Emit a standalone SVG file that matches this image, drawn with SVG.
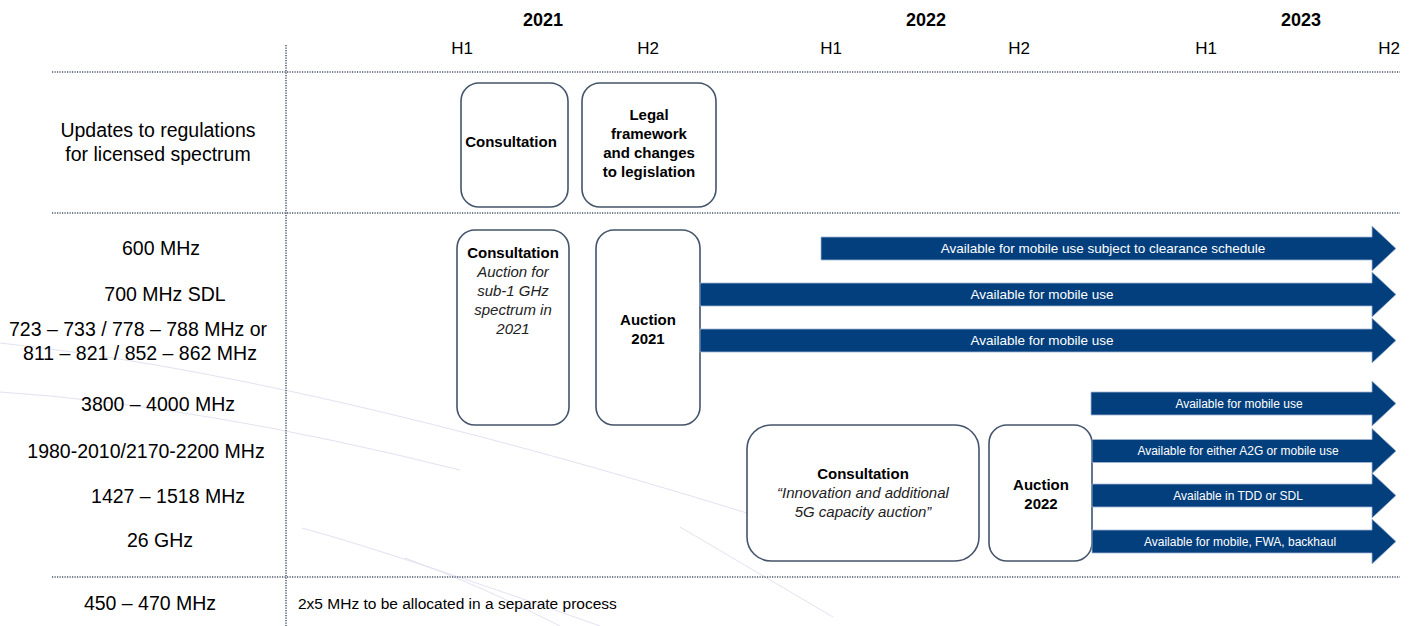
<svg xmlns="http://www.w3.org/2000/svg" width="1419" height="626" viewBox="0 0 1419 626">
<style>
text{font-family:"Liberation Sans",Arial,sans-serif;fill:#000}
.yr{font-size:18px;font-weight:bold;text-anchor:middle}
.h{font-size:17px;text-anchor:middle}
.lbl{font-size:19.5px;text-anchor:middle}
.bt{font-size:15px;font-weight:bold;text-anchor:middle}
.it{font-size:15px;font-style:italic;text-anchor:middle;fill:#222}
.box{fill:#fff;stroke:#44546a;stroke-width:1.6}
.dot{stroke:#4a5568;stroke-width:1.5;stroke-dasharray:1.2 1.3;fill:none}
.arr{fill:#043f7d;stroke:#9fb6d3;stroke-width:0.8}
.at{fill:#fff;font-size:13.5px;text-anchor:middle}
.as{fill:#fff;font-size:12px;text-anchor:middle}
.bg{fill:none;stroke:#e2e2f2;stroke-width:1}
</style>
<rect width="1419" height="626" fill="#fff"/>
<g id="background">
<path class="bg" d="M0,343 Q300,375 747,513"/>
<path class="bg" d="M0,392 Q200,405 460,470" stroke="#f1f1f7"/>
<path class="bg" d="M302,528 Q400,555 600,626"/>
<path class="bg" d="M680,527 L833,617"/>
<path class="bg" d="M405,558 Q480,585 560,626" stroke="#eeeef6"/>
</g>
<g id="grid">
<line class="dot" x1="52" y1="72" x2="1400" y2="72"/>
<line class="dot" x1="52" y1="213" x2="1400" y2="213"/>
<line class="dot" x1="52" y1="577" x2="1400" y2="577"/>
<line class="dot" x1="286" y1="45" x2="286" y2="626"/>
</g>
<g id="header">
<text class="yr" x="543" y="26">2021</text>
<text class="yr" x="926" y="26">2022</text>
<text class="yr" x="1301" y="26">2023</text>
<text class="h" x="462" y="54">H1</text>
<text class="h" x="648" y="54">H2</text>
<text class="h" x="831" y="54">H1</text>
<text class="h" x="1019" y="54">H2</text>
<text class="h" x="1206" y="54">H1</text>
<text class="h" x="1389" y="54">H2</text>
</g>
<g id="row-labels">
<text class="lbl" x="158" y="137">Updates to regulations</text>
<text class="lbl" x="158" y="161">for licensed spectrum</text>
<text class="lbl" x="161" y="255">600 MHz</text>
<text class="lbl" x="165" y="301">700 MHz  SDL</text>
<text class="lbl" x="138" y="336">723 – 733 / 778 – 788 MHz  or</text>
<text class="lbl" x="140" y="360">811 – 821 / 852 – 862 MHz</text>
<text class="lbl" x="158" y="411">3800 – 4000 MHz</text>
<text class="lbl" x="146" y="458">1980-2010/2170-2200 MHz</text>
<text class="lbl" x="168" y="503">1427 – 1518 MHz</text>
<text class="lbl" x="160" y="547">26 GHz</text>
<text class="lbl" x="150" y="610">450 – 470  MHz</text>
<text x="298" y="609" font-size="15.5">2x5 MHz to be allocated  in a separate process</text>
</g>
<g id="node-consultation-reg">
<rect class="box" x="461" y="83" width="107" height="124" rx="18"/>
<text class="bt" x="511" y="147">Consultation</text>
</g>
<g id="node-legal">
<rect class="box" x="582" y="83" width="134" height="124" rx="18"/>
<text class="bt" x="649" y="120">Legal</text>
<text class="bt" x="649" y="139">framework</text>
<text class="bt" x="649" y="158">and changes</text>
<text class="bt" x="649" y="177">to legislation</text>
</g>
<g id="node-consultation-2021">
<rect class="box" x="457" y="230" width="112" height="195" rx="18"/>
<text class="bt" x="513" y="258">Consultation</text>
<text class="it" x="513" y="277">Auction for</text>
<text class="it" x="513" y="296">sub-1 GHz</text>
<text class="it" x="513" y="315">spectrum in</text>
<text class="it" x="513" y="334">2021</text>
</g>
<g id="node-auction-2021">
<rect class="box" x="596" y="230" width="104" height="195" rx="18"/>
<text class="bt" x="648" y="325">Auction</text>
<text class="bt" x="648" y="344">2021</text>
</g>
<g id="node-consultation-2022">
<rect class="box" x="747" y="425" width="232" height="136" rx="24"/>
<text class="bt" x="863" y="479">Consultation</text>
<text class="it" x="863" y="498">“Innovation  and additional</text>
<text class="it" x="863" y="517">5G capacity auction”</text>
</g>
<g id="node-auction-2022">
<rect class="box" x="989" y="425" width="103" height="136" rx="18"/>
<text class="bt" x="1041" y="490">Auction</text>
<text class="bt" x="1041" y="509">2022</text>
</g>
<g id="connectors">
<path class="arr" d="M821,237 H1372 V226 L1396,248.5 L1372,271 V260 H821 Z"/>
<path class="arr" d="M700,283 H1372 V272 L1396,294.5 L1372,317 V306 H700 Z"/>
<path class="arr" d="M700,329 H1372 V318 L1396,340.5 L1372,363 V352 H700 Z"/>
<path class="arr" d="M1091,392 H1372 V381 L1396,403.5 L1372,426 V415 H1091 Z"/>
<path class="arr" d="M1092,439.5 H1372 V428.5 L1396,451 L1372,473.5 V462.5 H1092 Z"/>
<path class="arr" d="M1092,484 H1372 V473 L1396,495.5 L1372,518 V507 H1092 Z"/>
<path class="arr" d="M1092,530 H1372 V519 L1396,541.5 L1372,564 V553 H1092 Z"/>
<text class="at" x="1103" y="253">Available for mobile use subject to clearance schedule</text>
<text class="at" x="1042" y="299">Available for mobile use</text>
<text class="at" x="1042" y="345">Available for mobile use</text>
<text class="as" x="1239" y="408">Available for mobile use</text>
<text class="as" x="1238" y="455">Available for either A2G or mobile use</text>
<text class="as" x="1238" y="500">Available in TDD or SDL</text>
<text class="as" x="1240" y="546">Available for mobile, FWA, backhaul</text>
</g>
</svg>
